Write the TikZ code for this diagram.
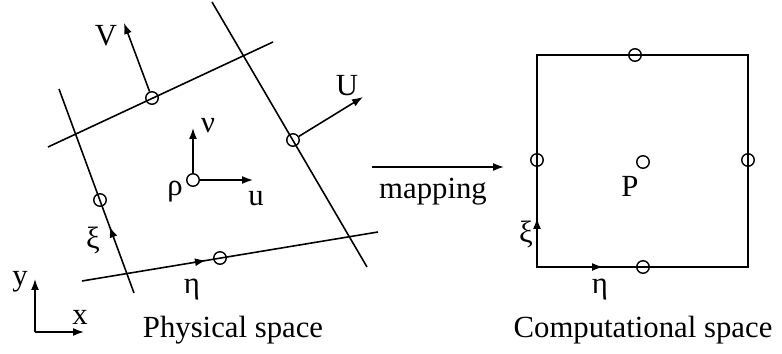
\documentclass[tikz,border=0pt]{standalone}
\usepackage{fontspec}
\setmainfont{Liberation Serif}
\usetikzlibrary{arrows.meta}

\begin{document}
\begin{tikzpicture}[
        x=0.02cm, y=-0.02cm,
        grid/.style={line width=0.9pt},
        pt/.style={draw, circle, line width=0.8pt, inner sep=0pt, minimum size=2.5mm},
        vec/.style={-{Latex[length=2.2mm,width=1.6mm]}, line width=0.9pt},
        lbl/.style={font=\fontsize{17.5}{20}\selectfont, inner sep=1pt}
    ]
        \useasboundingbox (0,0) rectangle (782,354);

        % physical space
        \draw[grid] (48,147) -- (273,42);
        \draw[grid] (212,2) -- (367,267);
        \draw[grid] (82,281) -- (378,232);
        \draw[grid] (59,89) -- (134,293);

        \node[pt] (ptop) at (152,98) {};
        \node[pt] (pright) at (293,140) {};
        \node[pt] (pbot) at (220,258) {};
        \node[pt] (pleft) at (100,200) {};
        \node[pt] (pc) at (193,180) {};

        \coordinate (Vend) at (124,23);
        \coordinate (Uend) at (363,97);
        \coordinate (vend) at (193,128);
        \coordinate (uend) at (253,180);
        \draw[vec] (ptop) -- (Vend);
        \draw[vec] (pright) -- (Uend);
        \draw[vec] (pc) -- (vend);
        \draw[vec] (pc) -- (uend);
        \draw[vec] (113.1,236) -- (109.6,226.5);
        \draw[vec] (194,262.4) -- (206,260.4);

        \node[lbl] (V) at (106,36) {V};
        \node[lbl] (U) at (347,86) {U};
        \node[lbl] (v) at (208,126) {ν};
        \node[lbl] (u) at (256,199) {u};
        \node[lbl] (rho) at (175,192) {ρ};
        \node[lbl] (xi) at (93,240) {ξ};
        \node[lbl] (eta) at (192,290) {η};

        \coordinate (o) at (35,332);
        \coordinate (yend) at (35,279);
        \coordinate (xend) at (84,332);
        \draw[vec] (o) -- (yend);
        \draw[vec] (o) -- (xend);
        \node[lbl] (ylbl) at (20,282) {y};
        \node[lbl] (xlbl) at (80,317) {x};
        \node[lbl] (phys) at (233,330) {Physical space};

        % mapping
        \coordinate (ms) at (372,167);
        \coordinate (me) at (504,167);
        \draw[vec] (ms) -- (me);
        \node[lbl] (map) at (433,192) {mapping};

        % computational space
        \draw[grid] (537,55) rectangle (748,267);
        \node[pt] (ctop) at (635,55) {};
        \node[pt] (cbot) at (643,267) {};
        \node[pt] (cleft) at (537,160) {};
        \node[pt] (cright) at (748,160) {};
        \node[pt] (cc) at (643,162) {};
        \draw[vec] (537,230) -- (537,218);
        \draw[vec] (591,267) -- (603,267);
        \node[lbl] (P) at (630,186) {P};
        \node[lbl] (cxi) at (526,234) {ξ};
        \node[lbl] (ceta) at (600,290) {η};
        \node[lbl] (comp) at (643,330) {Computational space};
    \end{tikzpicture}
\end{document}
